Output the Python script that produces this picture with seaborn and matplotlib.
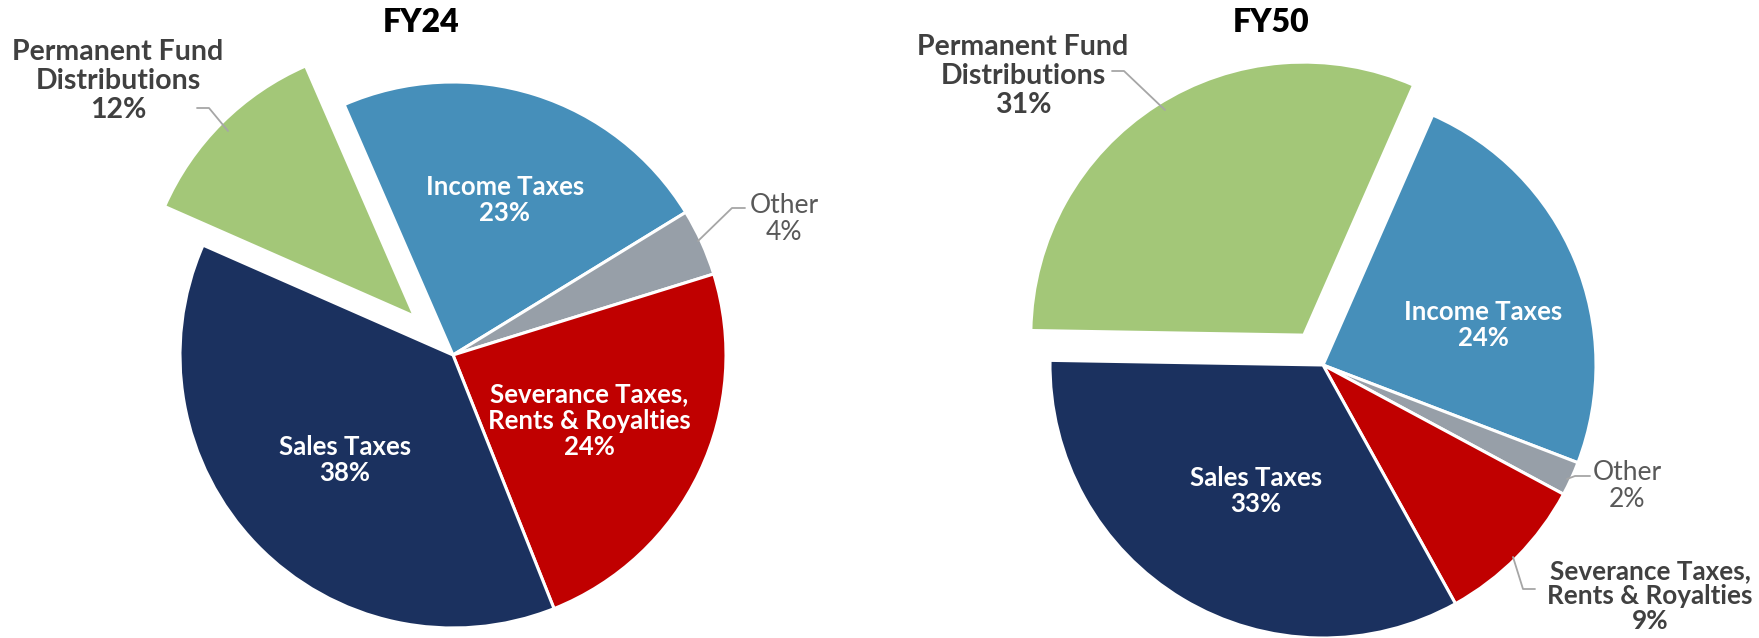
import matplotlib
matplotlib.use("Agg")
import matplotlib.pyplot as plt
import seaborn as sns

# ---------------- data ----------------
categories = ["Income Taxes", "Other", "Severance Taxes,\nRents & Royalties",
              "Sales Taxes", "Permanent Fund\nDistributions"]
fy24_values = [23, 4, 24, 38, 12]
fy50_values = [24, 2, 9, 33, 31]
titles = ["FY24", "FY50"]

# ---------------- style ----------------
sns.set_theme(style="white")
plt.rcParams["font.family"] = ["Lato", "DejaVu Sans"]

colors = ["#468FBA", "#979FA8", "#C00000", "#1B315F", "#A3C778"]
W, H = 1759, 638
fig = plt.figure(figsize=(W / 100, H / 100), dpi=100)
ax = fig.add_axes([0, 0, 1, 1])

def Y(y):  # convert from top-origin pixel to data y
    return H - y

R = 273
pies = [
    dict(values=fy24_values, center=(453, 355), start=113.5, explode=0.20, title=(421, 22)),
    dict(values=fy50_values, center=(1323, 365), start=66.3, explode=0.13, title=(1271, 22)),
]

for p in pies:
    ex = [0, 0, 0, 0, p["explode"] * R]
    ax.pie(p["values"], colors=colors, startangle=p["start"], counterclock=False,
           explode=ex, center=(p["center"][0], Y(p["center"][1])), radius=R,
           wedgeprops=dict(edgecolor="white", linewidth=2.2))

ax.set_xlim(0, W)
ax.set_ylim(0, H)
ax.set_aspect("equal")
ax.axis("off")

# titles
for t, p in zip(titles, pies):
    ax.text(p["title"][0], Y(p["title"][1]), t, ha="center", va="center",
            fontsize=23, fontweight="heavy", color="black")

in_fs = 18.5
out_fs = 20.5
dark = "#404040"
lite = "#595959"
lead = "#A6A6A6"
ls = 1.12

def pct(v):
    return f"{v}%"

def lab(x, y, s, fs, color, weight="bold", spacing=ls):
    ax.text(x, Y(y), s, ha="center", va="center", fontsize=fs,
            fontweight=weight, color=color, linespacing=spacing)

# FY24 labels
v = fy24_values
lab(505, 200, f"Income Taxes\n{pct(v[0])}", in_fs, "white")
lab(589, 421, f"Severance Taxes,\nRents & Royalties\n{pct(v[2])}", in_fs, "white")
lab(345, 460, f"Sales Taxes\n{pct(v[3])}", in_fs, "white")
lab(118, 81, f"Permanent Fund\nDistributions\n{pct(v[4])}", out_fs, dark)
lab(784, 219, f"Other\n{pct(v[1])}", 19, lite, "normal")
ax.plot([197, 209, 228], [Y(108), Y(108), Y(131)], color=lead, lw=1.3)
ax.plot([698, 732, 745], [Y(241), Y(208), Y(208)], color=lead, lw=1.3)

# FY50 labels
v = fy50_values
lab(1483, 325, f"Income Taxes\n{pct(v[0])}", in_fs, "white")
lab(1256, 491, f"Sales Taxes\n{pct(v[3])}", in_fs, "white")
lab(1023, 76, f"Permanent Fund\nDistributions\n{pct(v[4])}", out_fs, dark)
lab(1627, 486, f"Other\n{pct(v[1])}", 19, lite, "normal")
lab(1650, 596, f"Severance Taxes,\nRents & Royalties\n{pct(v[2])}", 18.8, dark, spacing=1.05)
ax.plot([1112, 1124, 1165], [Y(71), Y(71), Y(110)], color=lead, lw=1.3)
ax.plot([1567, 1575, 1590], [Y(479), Y(476), Y(476)], color=lead, lw=1.3)
ax.plot([1513, 1523, 1535], [Y(557), Y(589), Y(589)], color=lead, lw=1.3)

fig.savefig("out.png", dpi=100)
